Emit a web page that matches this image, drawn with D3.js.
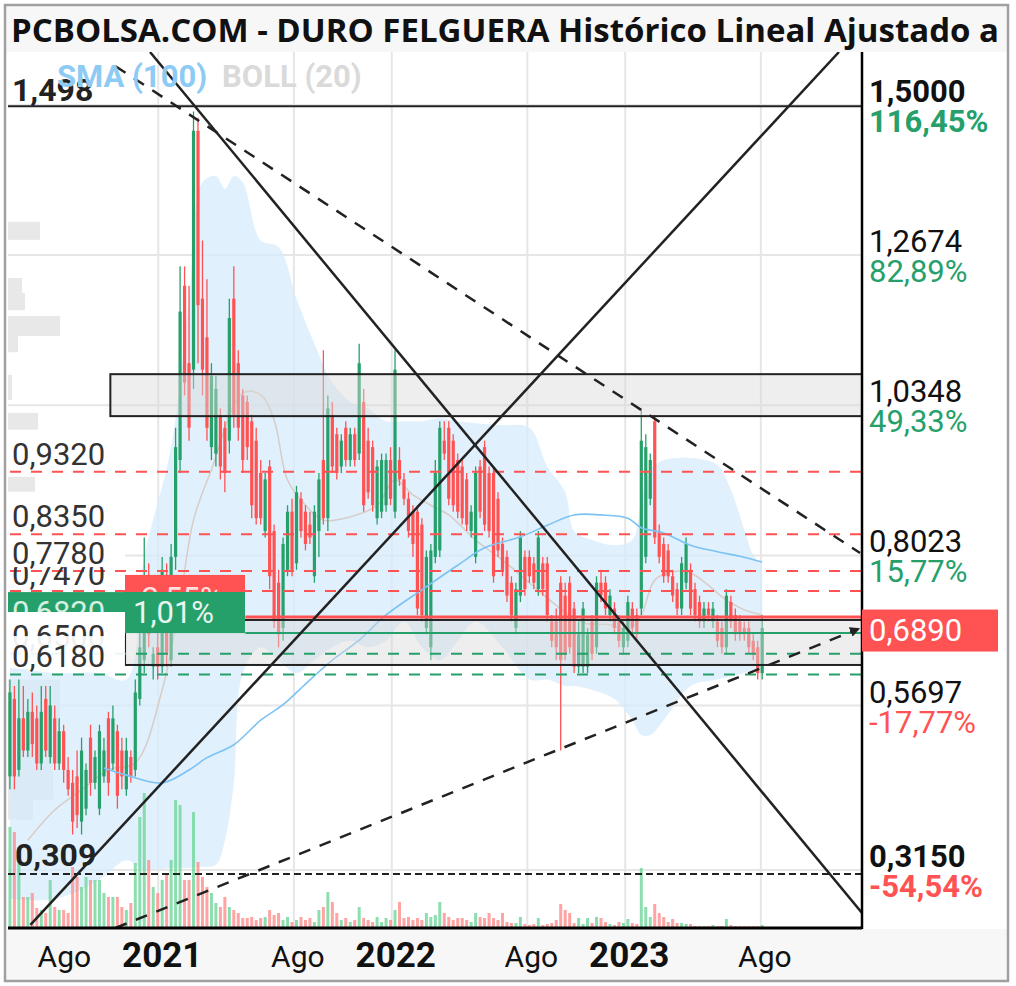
<!DOCTYPE html>
<html><head><meta charset="utf-8">
<script src="https://cdn.jsdelivr.net/npm/d3@7"></script>
<style>html,body{margin:0;padding:0;background:#fff;}svg{display:block;}</style>
</head><body>
<svg id="c" width="1016" height="986"></svg>
<script>
// ---------------- DATA ----------------
const titleText = "PCBOLSA.COM - DURO FELGUERA Histórico Lineal Ajustado a Dividendos";
// weekly candles, first Monday 2020-05-11
const opens = [
.46,.58,.47,.55,.50,.56,.55,.48,.58,.49,
.55,.48,.53,.47,.45,.46,.39,.41,.52,.45,
.41,.46,.55,.48,.53,.50,.44,.49,.47,.58,
.64,.76,.63,.66,.63,.77,.64,.80,.95,1.22,
1.10,1.09,1.46,1.20,1.14,.97,.96,1.02,1.00,.98,
1.20,1.10,1.05,1.04,1.01,.98,.93,.84,.94,.84,
.76,.69,.78,.87,.79,.89,.87,.85,.77,.84,
.95,.86,1.02,.99,.94,1.00,.95,.99,.96,1.04,
.98,.97,.86,.87,.88,.95,.87,.95,.92,.89,
.87,.87,.85,.69,.66,.80,.81,.98,1.00,.98,
.95,.94,.92,.84,.80,.94,.97,.93,.93,.89,
.82,.80,.76,.69,.74,.80,.80,.79,.75,.79,
.79,.70,.70,.76,.74,.76,.72,.63,.63,.63,
.70,.66,.76,.76,.71,.72,.70,.66,.67,.72,
.71,.72,.80,.89,1.01,.84,.82,.81,.77,.75,
.72,.76,.78,.75,.73,.70,.72,.70,.70,.69,
.66,.73,.71,.70,.69,.69,.67,.66,.62];
const highs = [
.61,.60,.61,.60,.58,.59,.57,.60,.60,.60,
.57,.55,.54,.49,.47,.50,.52,.48,.54,.50,
.54,.52,.56,.57,.54,.52,.52,.50,.61,.70,
.83,.79,.66,.69,.80,.79,.82,1.00,1.25,1.25,
1.22,1.49,1.48,1.29,1.23,1.10,1.08,1.03,1.01,1.20,
1.25,1.12,1.06,1.05,1.02,1.00,.95,.93,.95,.85,
.78,.83,.88,.89,.91,.90,.88,.87,.88,.93,
1.12,1.05,1.04,1.00,.99,1.01,1.00,1.00,1.13,1.06,
1.00,.98,.95,.96,.96,.97,1.12,.97,.93,.90,
.88,.88,.86,.81,.82,.95,1.01,1.01,1.01,.99,
.96,.95,.93,.88,.94,.95,.98,.94,.94,.90,
.83,.81,.77,.76,.84,.81,.81,.80,.84,.80,
.80,.71,.72,.77,.76,.77,.73,.70,.73,.69,
.71,.77,.78,.77,.75,.73,.71,.70,.74,.73,
.72,1.03,.99,.96,1.02,.85,.83,.82,.78,.76,
.80,.83,.79,.76,.74,.73,.73,.73,.71,.70,
.75,.74,.72,.71,.70,.70,.68,.67,.71];
const lows = [
.44,.44,.46,.49,.49,.49,.47,.47,.49,.48,
.47,.47,.45,.43,.37,.38,.37,.40,.43,.44,
.40,.45,.43,.47,.41,.44,.43,.45,.46,.57,
.62,.66,.61,.61,.62,.63,.63,.78,.93,1.05,
.98,1.06,1.10,1.05,.98,.95,.94,.92,.90,.96,
1.00,.98,.93,.95,.86,.85,.85,.83,.75,.69,
.66,.67,.77,.77,.78,.83,.81,.82,.76,.80,
.85,.84,.93,.92,.93,.94,.94,.94,.95,.87,
.89,.87,.85,.86,.87,.88,.86,.91,.88,.83,
.80,.71,.70,.68,.64,.79,.80,.95,.88,.87,
.86,.85,.84,.83,.79,.86,.84,.83,.76,.80,
.77,.73,.70,.68,.73,.74,.76,.75,.74,.74,
.70,.66,.64,.50,.64,.65,.62,.62,.62,.62,
.64,.65,.73,.71,.70,.68,.66,.65,.66,.68,
.67,.71,.79,.88,.82,.79,.76,.76,.73,.71,
.71,.75,.71,.70,.69,.69,.70,.69,.66,.65,
.65,.69,.67,.67,.67,.65,.64,.61,.61];
const closes = [
.59,.46,.55,.50,.56,.51,.48,.56,.50,.57,
.48,.53,.47,.44,.39,.40,.50,.47,.45,.49,
.53,.50,.45,.55,.43,.46,.50,.46,.59,.66,
.76,.68,.65,.63,.78,.65,.80,.97,1.18,1.07,
1.00,1.46,1.19,1.09,1.00,1.08,1.06,.94,.93,1.17,
1.02,1.00,.95,.97,.88,.86,.86,.92,.77,.70,
.68,.82,.87,.78,.90,.84,.82,.83,.87,.92,
.86,1.03,.94,.93,.98,.95,.99,.95,1.10,.88,
.90,.88,.94,.95,.95,.89,1.09,.92,.89,.84,
.82,.72,.71,.80,.81,.93,1.00,.96,.89,.88,
.87,.86,.85,.87,.93,.87,.85,.84,.77,.81,
.78,.74,.71,.75,.83,.75,.77,.76,.83,.75,
.71,.67,.66,.64,.65,.66,.63,.68,.72,.68,
.65,.76,.74,.72,.74,.69,.67,.69,.73,.69,
.68,.98,.97,.95,.83,.80,.77,.77,.74,.72,
.79,.82,.72,.71,.70,.72,.71,.72,.67,.66,
.74,.70,.68,.68,.68,.66,.65,.62,.69];
const volumes = [
10.1,9.6,8.1,3.1,3.1,3.5,2.0,1.8,1.5,4.8,
2.1,1.8,1.8,1.5,6.1,5.1,4.1,5.1,4.8,4.8,
4.8,3.5,3.1,3.1,3.1,2.1,1.8,2.5,6.5,11.1,
13.5,6.8,4.1,3.5,4.8,5.5,6.8,12.8,12.3,4.8,
4.8,11.6,6.6,5.1,4.1,3.5,2.5,2.1,3.1,2.1,
1.8,1.5,1.0,1.0,1.1,0.8,1.0,1.1,1.8,1.3,
1.5,0.8,1.1,0.6,0.8,1.1,0.8,1.0,0.6,1.8,
2.1,3.6,2.6,1.5,0.8,1.0,0.6,0.8,2.1,1.0,
0.8,0.6,1.1,0.6,1.0,0.8,1.8,2.6,1.0,1.1,
0.8,1.0,0.8,1.5,1.1,1.3,2.6,1.5,1.1,0.8,
1.0,1.0,0.8,0.6,1.5,1.1,1.0,1.5,1.0,0.8,
1.5,0.6,0.5,0.5,1.1,0.4,0.3,0.4,1.0,0.3,
0.4,0.5,0.8,2.4,1.8,1.5,0.5,1.0,0.4,1.0,
0.5,1.1,1.0,0.6,0.4,0.3,0.6,0.5,0.9,0.5,
0.4,6.0,2.1,1.1,2.4,1.5,1.1,0.6,0.9,0.5,
0.5,0.4,0.4,0.2,0.2,0.2,0.2,0.3,0.2,0.2,
0.9,0.3,0.2,0.2,0.2,0.2,0.2,0.2,0.3];
// Bollinger (20) bands, sampled at candle indices
const bbIdx   = [0,10,20,26,30,36,40,43,46,48,50,52,56,60,64,68,72,76,80,84,88,92,96,100,104,110,116,120,124,126,130,135,139,141,143,146,152,158,161,164,166,168];
const bbUpper = [.63,.62,.62,.61,.80,.97,1.20,1.38,1.39,1.37,1.39,1.38,1.29,1.28,1.20,1.13,1.07,1.04,1.03,1.01,1.01,1.01,1.015,1.01,1.007,1.004,1.00,.94,.90,.84,.826,.818,.826,.888,.935,.95,.953,.942,.904,.842,.803,.787];
const bbLower = [.27,.27,.30,.33,.315,.318,.318,.32,.323,.36,.45,.62,.66,.64,.62,.64,.66,.67,.66,.67,.70,.66,.64,.67,.70,.66,.61,.61,.60,.60,.594,.58,.547,.524,.524,.547,.60,.61,.615,.62,.625,.628];
const bbMidIdx = [4,10,16,22,28,34,38,41,45,52,56,59,62,66,70,76,82,86,90,94,98,104,110,116,122,128,134,138,141,144,148,152,156,160,164,168];
const bbMid    = [.361,.408,.439,.470,.481,.594,.733,.857,.935,1.054,1.051,1.012,.919,.880,.857,.862,.880,.919,.896,.880,.865,.826,.795,.760,.725,.698,.695,.687,.710,.764,.777,.775,.756,.733,.718,.710];
// SMA (100)
const smaIdx = [21,26,34,40,44,50,56,61,66,72,78,84,92,100,106,114,120,126,132,138,141,146,152,158,163,168];
const smaVal = [.473,.462,.450,.470,.489,.509,.547,.571,.603,.640,.671,.710,.749,.787,.814,.831,.849,.865,.865,.860,.845,.837,.818,.808,.801,.792];
// volume profile (left side)
const vpTop = [1.319,1.232,1.209,1.173,1.142,1.082,1.023,0.924,0.610,0.548,0.486,0.424];
const vpBot = [1.291,1.209,1.182,1.142,1.117,1.043,0.997,0.901,0.548,0.486,0.424,0.393];
const vpVol = [32,14,17,52,10,4,30,27,52,52,45,25];
// axis ticks
const tickDates  = ["2020-08-01","2021-01-01","2021-08-01","2022-01-01","2022-08-01","2023-01-01","2023-08-01"];
const tickLabels = ["Ago","2021","Ago","2022","Ago","2023","Ago"];
const tickBold   = [false,true,false,true,false,true,false];
// right-hand price levels
const levelVals = [1.5,1.2674,1.0348,0.8023,0.5697,0.3150];
const levelText = ["1,5000","1,2674","1,0348","0,8023","0,5697","0,3150"];
const levelPct  = ["116,45%","82,89%","49,33%","15,77%","-17,77%","-54,54%"];
const levelBold = [true,false,false,false,false,true];
const lastPrice = 0.6890, lastPriceText = "0,6890";
// dashed support / resistance levels
const redLevels = [0.932,0.835,0.778,0.747];
const redLabels = ["0,9320","0,8350","0,7780","0,7470"];
const greenLevels = [0.650,0.618];
const greenLabels = ["0,6500","0,6180"];
const topLine = 1.498, topLineText = "1,498";
const botLine = 0.309, botLineText = "0,309";
// zones [start date, top price, bottom price]
const zones = [["2020-10-15",1.083,1.018],["2020-11-07",0.7023,0.6326]];
const redMark = 0.707, redMarkPct = "-2,55%";
const greenMark = 0.682, greenMarkText = "0,6820", greenMarkPct = "1,01%";
const markStart = "2021-05-14";
// trend lines [[date, price],[date, price]]
const trendSolid = [[["2020-12-16",1.582],["2024-01-03",0.2485]],[["2020-06-12",0.2299],["2023-11-28",1.582]]];
const trendDashed = [[["2020-10-23",1.560],["2023-12-31",0.806]]];
const trendArrow = [[["2020-10-23",0.2252],["2023-12-28",0.6883]]];

// ---------------- CHART ----------------
const parse = d3.timeParse("%Y-%m-%d");
const dates = d3.timeMonday.range(new Date(2020,4,11), new Date(2023,7,1));
const P = {l:8, r:862, t:52, b:928};
const x = d3.scaleTime().domain([new Date(2020,4,8), new Date(2024,0,3)]).range([P.l,P.r]);
const y = d3.scaleLinear().domain([0.2252,1.582]).range([P.b,P.t]);
const yv = d3.scaleLinear().domain([0,14]).range([P.b,P.b-140]);
const xvp = d3.scaleLinear().domain([0,100]).range([0,100]);
const GREEN="#26a06b", RED="#ff5252";
const FONT="Roboto, 'Noto Sans', sans-serif";

const svg = d3.select("#c");
const defs = svg.append("defs");
defs.append("clipPath").attr("id","pc").append("rect").attr("x",P.l).attr("y",P.t).attr("width",P.r-P.l).attr("height",P.b-P.t);
defs.append("clipPath").attr("id","tc").append("rect").attr("x",5).attr("y",5).attr("width",1003).attr("height",46);
defs.append("marker").attr("id","arr").attr("viewBox","0 0 10 10").attr("refX",8).attr("refY",5)
  .attr("markerWidth",4).attr("markerHeight",4).attr("orient","auto")
  .append("path").attr("d","M0,0L10,5L0,10Z").attr("fill","#222");

svg.append("rect").attr("width",1016).attr("height",986).attr("fill","#fff");
svg.append("rect").attr("x",5).attr("y",5).attr("width",1003).attr("height",47).attr("fill","#f7f7f7");
svg.append("rect").attr("x",5).attr("y",929).attr("width",1003).attr("height",52).attr("fill","#f7f7f7");

const g = svg.append("g").attr("clip-path","url(#pc)");

// volume profile
g.selectAll(".vp").data(vpVol).join("rect")
  .attr("x",P.l).attr("y",(d,i)=>y(vpTop[i])).attr("height",(d,i)=>y(vpBot[i])-y(vpTop[i]))
  .attr("width",d=>xvp(d)).attr("fill","#e4e4e4").attr("opacity",0.85);

// grid
g.selectAll(".hg").data(levelVals).join("line")
  .attr("x1",P.l).attr("x2",P.r).attr("y1",d=>y(d)).attr("y2",d=>y(d)).attr("stroke","#e6e6e6").attr("stroke-width",2);
g.selectAll(".vg").data(tickDates.slice(1)).join("line")
  .attr("x1",d=>x(parse(d))-2).attr("x2",d=>x(parse(d))-2).attr("y1",P.t).attr("y2",P.b).attr("stroke","#e6e6e6").attr("stroke-width",2);

// bollinger band
const upPts = bbIdx.map((k,i)=>[x(dates[k]),y(bbUpper[i])]);
const loPts = bbIdx.map((k,i)=>[x(dates[k]),y(bbLower[i])]).reverse();
const cr = d3.line().curve(d3.curveCatmullRom.alpha(0.5));
g.append("path").attr("d", cr(upPts) + "L" + cr(loPts).slice(1) + "Z")
  .attr("fill","#d6ebfb").attr("opacity",0.75);
g.append("path").datum(bbMidIdx.map((k,i)=>[x(dates[k]),y(bbMid[i])]))
  .attr("d",cr).attr("fill","none").attr("stroke","#d8ccc6").attr("stroke-width",1.5);

// volume bars
g.selectAll(".vol").data(volumes).join("rect")
  .attr("x",(d,i)=>x(dates[i])-1.5).attr("width",3)
  .attr("y",d=>yv(d)).attr("height",d=>P.b-yv(d))
  .attr("fill",(d,i)=>closes[i]>=opens[i]?"#6fd69b":"#ff8c8c").attr("opacity",0.8);

// candles
const cg = g.append("g");
dates.forEach((dt,i)=>{
  const up = closes[i]>=opens[i];
  const col = up?GREEN:RED;
  const cx = x(dt);
  cg.append("line").attr("x1",cx).attr("x2",cx).attr("y1",y(highs[i])).attr("y2",y(lows[i]))
    .attr("stroke",col).attr("stroke-width",1.3);
  const t = y(Math.max(opens[i],closes[i])), b = y(Math.min(opens[i],closes[i]));
  cg.append("rect").attr("x",cx-1.6).attr("width",3.2).attr("y",t).attr("height",Math.max(1,b-t)).attr("fill",col);
});

// SMA
g.append("path").datum(smaIdx.map((k,i)=>[x(dates[k]),y(smaVal[i])]))
  .attr("d",cr).attr("fill","none").attr("stroke","#7cc3f3").attr("stroke-width",1.6);

// zones
zones.forEach(z=>{
  g.append("rect").attr("x",x(parse(z[0]))).attr("y",y(z[1])).attr("width",P.r-x(parse(z[0]))+5)
   .attr("height",y(z[2])-y(z[1])).attr("fill","#d9d9d9").attr("fill-opacity",0.45)
   .attr("stroke","#222").attr("stroke-width",2);
});

// dashed levels
g.selectAll(".rl").data(redLevels).join("line").attr("x1",P.l).attr("x2",P.r)
  .attr("y1",d=>y(d)).attr("y2",d=>y(d)).attr("stroke",RED).attr("stroke-width",2).attr("stroke-dasharray","11,10").attr("stroke-dashoffset",-2);
g.selectAll(".gl").data(greenLevels).join("line").attr("x1",P.l).attr("x2",P.r)
  .attr("y1",d=>y(d)).attr("y2",d=>y(d)).attr("stroke",GREEN).attr("stroke-width",2).attr("stroke-dasharray","11,10").attr("stroke-dashoffset",-2);
g.append("line").attr("x1",P.l).attr("x2",P.r).attr("y1",y(botLine)).attr("y2",y(botLine))
  .attr("stroke","#222").attr("stroke-width",2).attr("stroke-dasharray","7,4");
g.append("line").attr("x1",P.l).attr("x2",P.r).attr("y1",y(topLine)).attr("y2",y(topLine))
  .attr("stroke","#222").attr("stroke-width",2);
// marks
g.append("line").attr("x1",x(parse(markStart))).attr("x2",P.r).attr("y1",y(redMark)).attr("y2",y(redMark)).attr("stroke",RED).attr("stroke-width",3);
g.append("line").attr("x1",x(parse(markStart))).attr("x2",P.r).attr("y1",y(greenMark)).attr("y2",y(greenMark)).attr("stroke",GREEN).attr("stroke-width",2);

// trend lines
const pt = d=>[x(parse(d[0])),y(d[1])];
trendSolid.forEach(t=>g.append("line").attr("x1",pt(t[0])[0]).attr("y1",pt(t[0])[1]).attr("x2",pt(t[1])[0]).attr("y2",pt(t[1])[1])
  .attr("stroke","#222").attr("stroke-width",2.5));
trendDashed.forEach(t=>g.append("line").attr("x1",pt(t[0])[0]).attr("y1",pt(t[0])[1]).attr("x2",pt(t[1])[0]).attr("y2",pt(t[1])[1])
  .attr("stroke","#222").attr("stroke-width",2.5).attr("stroke-dasharray","12,10"));
trendArrow.forEach(t=>g.append("line").attr("x1",pt(t[0])[0]).attr("y1",pt(t[0])[1]).attr("x2",pt(t[1])[0]).attr("y2",pt(t[1])[1])
  .attr("stroke","#222").attr("stroke-width",2.5).attr("stroke-dasharray","12,10").attr("marker-end","url(#arr)"));

// axes lines
svg.append("line").attr("x1",P.r).attr("x2",P.r).attr("y1",P.t).attr("y2",P.b+1).attr("stroke","#000").attr("stroke-width",2.5);
svg.append("line").attr("x1",P.l).attr("x2",P.r).attr("y1",P.b).attr("y2",P.b).attr("stroke","#000").attr("stroke-width",3);

// ---------- left labels ----------
const L = svg.append("g").attr("font-family",FONT);
const lbl = (txt,xx,yy,opt={})=>L.append("text").attr("x",xx).attr("y",yy).text(txt)
  .attr("font-size",opt.size||31).attr("font-weight",opt.bold?"bold":"normal").attr("fill",opt.fill||"#333");
lbl(topLineText,12,y(topLine)-5,{bold:true,size:32,fill:"#222"});
lbl(botLineText,15,y(botLine)-8,{bold:true,size:32,fill:"#222"});
lbl(redLabels[0],12,y(redLevels[0])-7);
lbl(redLabels[1],12,y(redLevels[1])-7);
lbl(redLabels[3],12,y(redLevels[3])-6);
L.append("rect").attr("x",8).attr("y",y(redLevels[1])+3).attr("width",117).attr("height",y(redLevels[2])-y(redLevels[1])-7).attr("fill","#fff");
lbl(redLabels[2],12,y(redLevels[2])-7);
// red & green markers
L.append("rect").attr("x",125).attr("y",y(redMark)-42).attr("width",120).attr("height",42).attr("fill",RED);
lbl(redMarkPct,133,y(redMark)-8,{fill:"#ffe0e0"});
L.append("rect").attr("x",8).attr("y",y(greenMark)-41).attr("width",237).attr("height",20).attr("fill",GREEN);
L.append("rect").attr("x",125).attr("y",y(greenMark)-41).attr("width",120).attr("height",41).attr("fill",GREEN);
lbl(greenMarkText,12,y(greenMark)-10,{fill:"#d5efe1"});
lbl(greenMarkPct,133,y(greenMark)-10,{fill:"#e8f6ee"});
L.append("rect").attr("x",8).attr("y",y(greenMark)-21).attr("width",117).attr("height",24).attr("fill","#fff");
lbl(greenLabels[0],12,y(greenLevels[0])-7);
L.append("rect").attr("x",8).attr("y",y(greenMark)+3).attr("width",117).attr("height",y(greenLevels[1])-y(greenMark)-9).attr("fill","#fff").attr("opacity",0.92);
lbl(greenLabels[1],12,y(greenLevels[1])-7);

// legend
L.append("text").attr("x",57).attr("y",87).attr("font-size",31).attr("font-weight","bold").attr("fill","#8ecbf4").text("SMA (100)");
L.append("text").attr("x",222).attr("y",87).attr("font-size",31).attr("font-weight","bold").attr("fill","#dadada").text("BOLL (20)");

// ---------- right labels ----------
const R = svg.append("g").attr("font-family",FONT).attr("font-size",31);
levelVals.forEach((v,i)=>{
  R.append("text").attr("x",869).attr("y",y(v)-3).text(levelText[i]).attr("fill","#111").attr("font-weight",levelBold[i]?"bold":"normal");
  R.append("text").attr("x",869).attr("y",y(v)+27).text(levelPct[i]).attr("fill",v>lastPrice?GREEN:RED).attr("font-weight",levelBold[i]?"bold":"normal");
});
R.append("rect").attr("x",862).attr("y",y(lastPrice)-19).attr("width",136).attr("height",42).attr("fill",RED);
R.append("text").attr("x",869).attr("y",y(lastPrice)+12).text(lastPriceText).attr("fill","#fff");

// ---------- x labels ----------
const X = svg.append("g").attr("font-family",FONT).attr("text-anchor","middle");
tickDates.forEach((d,i)=>{
  X.append("text").attr("x",x(parse(d))+2).attr("y",967).text(tickLabels[i])
   .attr("font-size",tickBold[i]?35:30).attr("font-weight",tickBold[i]?"bold":"normal").attr("fill","#111");
});

// title
svg.append("text").attr("clip-path","url(#tc)").attr("x",11).attr("y",42).attr("font-family","'Open Sans', 'Noto Sans', sans-serif")
  .attr("font-size",33).attr("font-weight","bold").attr("fill","#111").text(titleText);
// frame
svg.append("rect").attr("x",5).attr("y",5).attr("width",1003).attr("height",976).attr("fill","none").attr("stroke","#a0a0a0").attr("stroke-width",2.5);
</script>
</body></html>
